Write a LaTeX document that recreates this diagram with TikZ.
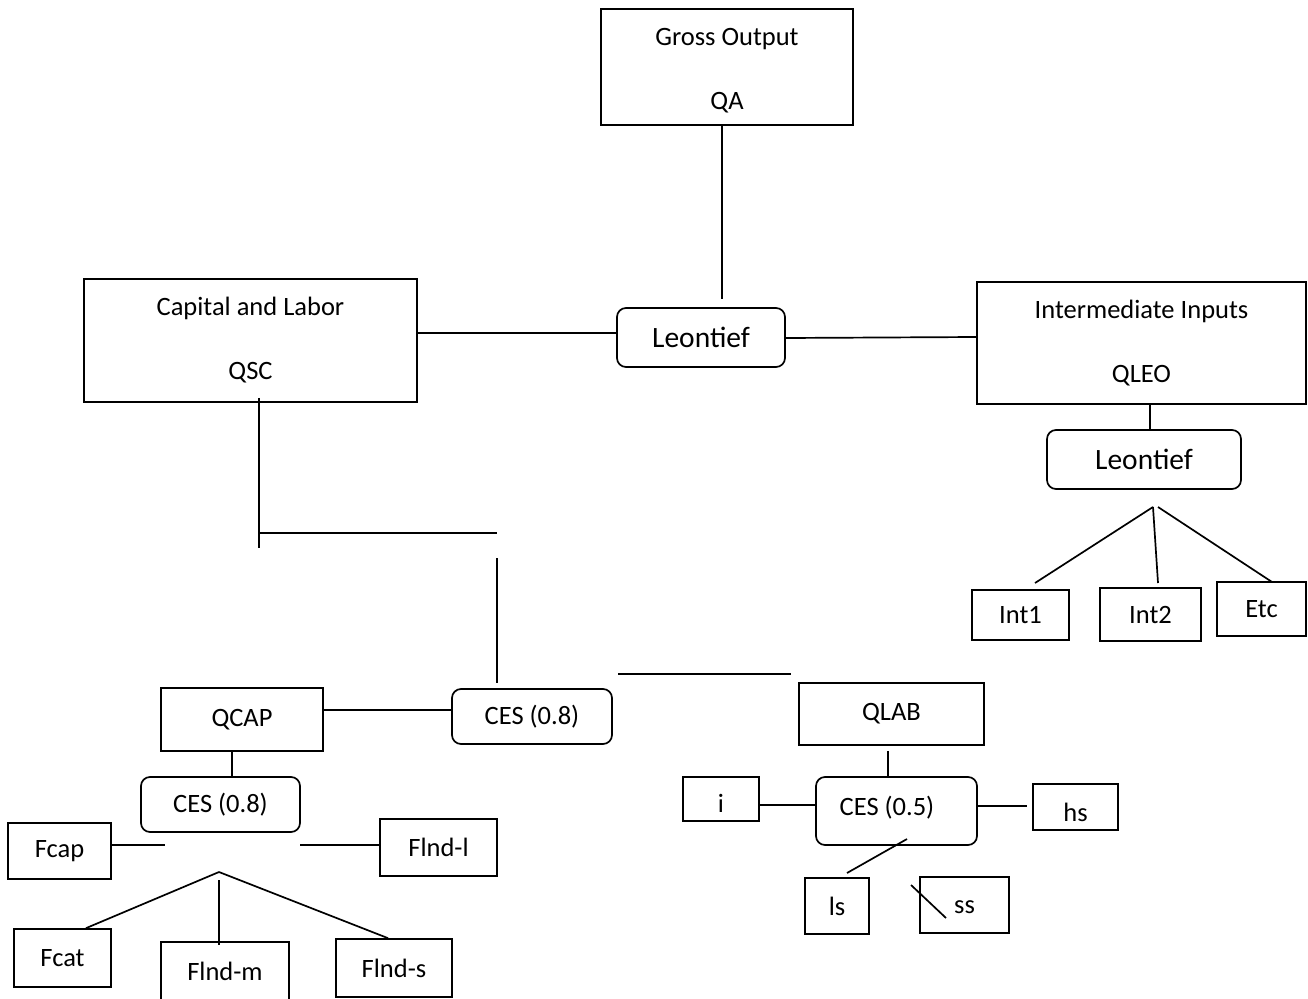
\documentclass[tikz,border=0pt]{standalone}
\usepackage{fontspec}
\setmainfont{Carlito}
\begin{document}
\begin{tikzpicture}[x=1pt,y=-1pt,
  txt/.style={font=\fontsize{26.5pt}{32pt}\selectfont,align=center,inner sep=0pt},
  box/.style={draw,line width=1.7pt,inner sep=0pt,txt},
  rbox/.style={box,rounded corners=9pt},
  big/.style={font=\fontsize{29.5pt}{35pt}\selectfont},
  conn/.style={line width=1.7pt}]
\useasboundingbox (0,0) rectangle (1308,998);
\clip (0,0) rectangle (1308,998);
% top level
\node[box,minimum width=252pt,minimum height=116pt,
  label={[txt,yshift=-4pt]center:Gross Output\\[32pt]QA}] (go) at (727,67) {};
\node[box,minimum width=333pt,minimum height=123pt] (cl) at (250.5,340.5) {Capital and Labor\\[32pt]QSC};
\node[rbox,big,minimum width=168pt,minimum height=59pt] (lc) at (701,337.5) {Leontief};
\node[box,minimum width=329pt,minimum height=122pt] (ii) at (1141.5,343) {Intermediate Inputs\\[32pt]QLEO};
\node[rbox,big,minimum width=194pt,minimum height=59pt] (lr) at (1144,459.5) {Leontief};
\node[box,minimum width=97pt,minimum height=50pt] (int1) at (1020.5,615) {Int1};
\node[box,minimum width=101pt,minimum height=53pt] (int2) at (1150.5,614.5) {Int2};
\node[box,minimum width=89pt,minimum height=54pt] (etc) at (1261.5,609) {Etc};
% capital branch
\node[rbox,minimum width=160pt,minimum height=55pt] (cesc) at (532,716.5) {CES (0.8)};
\node[box,minimum width=162pt,minimum height=63pt] (qcap) at (242,719.5) {QCAP};
\node[rbox,minimum width=159pt,minimum height=55pt] (cesl) at (220.5,804.5) {CES (0.8)};
\node[box,minimum width=103pt,minimum height=56pt] (fcap) at (59.5,851) {Fcap};
\node[box,minimum width=117pt,minimum height=57pt] (flndl) at (438.5,847.5) {Flnd-l};
\node[box,minimum width=97pt,minimum height=58pt] (fcat) at (62.5,958) {Fcat};
\node[box,minimum width=128pt,minimum height=58pt] (flndm) at (225,971) {Flnd-m};
\node[box,minimum width=116pt,minimum height=58pt] (flnds) at (394,968) {Flnd-s};
% labour branch
\node[box,minimum width=185pt,minimum height=62pt] (qlab) at (891.5,714) {QLAB};
\node[rbox,minimum width=161pt,minimum height=68pt,
  label={[txt,xshift=-9.5pt,yshift=3pt]center:CES (0.5)}] (cesr) at (896.5,811) {};
\node[box,minimum width=76pt,minimum height=44pt,
  label={[txt,yshift=-4pt]center:i}] (ib) at (721,799) {};
\node[box,minimum width=85pt,minimum height=46pt,
  label={[txt,yshift=-5pt]center:hs}] (hs) at (1075.5,807) {};
\node[box,minimum width=64pt,minimum height=56pt] (ls) at (837,906) {ls};
\node[box,minimum width=89pt,minimum height=56pt,
  label={[txt,yshift=-2pt]center:ss}] (ss) at (964.5,905) {};
% free ends
\coordinate (a1) at (722,299);
\coordinate (ap1) at (1153,507);
\coordinate (ap2) at (1158,507);
\coordinate (e1) at (1035,583);
\coordinate (e2) at (1158,583);
\coordinate (e3) at (1272,582);
\coordinate (b1) at (259,548);
\coordinate (b2) at (259,533);
\coordinate (b3) at (497,533);
\coordinate (b4) at (497,558);
\coordinate (b5) at (497,683);
\coordinate (c1) at (618,674);
\coordinate (c2) at (791,674);
\coordinate (d1) at (165,845);
\coordinate (d2) at (300,845);
\coordinate (d3) at (219,872);
\coordinate (d4) at (219,880);
\coordinate (f1) at (1027,806);
\coordinate (f2) at (907,839);
\coordinate (f3) at (847,873);
\coordinate (f4) at (911,885);
\coordinate (f5) at (946,918);
% connectors
\draw[conn] (go.south -| a1) -- (a1);
\draw[conn] ([yshift=7.5pt]cl.east) -- ([yshift=4.5pt]lc.west);
\draw[conn] ([yshift=-0.5pt]lc.east) -- ([yshift=6pt]ii.west);
\draw[conn] ([xshift=8.5pt]ii.south) -- ([xshift=6pt]lr.north);
\draw[conn] (ap1) -- (e1);
\draw[conn] (ap1) -- (e2);
\draw[conn] (ap2) -- (e3);
\draw[conn] ([xshift=8.5pt,yshift=5pt]cl.south) -- (b1);
\draw[conn] (b2) -- (b3);
\draw[conn] (b4) -- (b5);
\draw[conn] (c1) -- (c2);
\draw[conn] ([yshift=9.5pt]qcap.east) -- ([yshift=6.5pt]cesc.west);
\draw[conn] ([xshift=-10pt]qcap.south) -- ([xshift=11.5pt]cesl.north);
\draw[conn] ([yshift=6pt]fcap.east) -- (d1);
\draw[conn] (d2) -- ([yshift=2.5pt]flndl.west);
\draw[conn] (d3) -- ([xshift=23.5pt]fcat.north);
\draw[conn] (d3) -- ([xshift=-6pt]flnds.north);
\draw[conn] (d4) -- ([xshift=-6pt,yshift=-4pt]flndm.north);
\draw[conn] ([xshift=-3.5pt,yshift=-5pt]qlab.south) -- ([xshift=-8.5pt]cesr.north);
\draw[conn] ([yshift=-6pt]ib.east) -- ([yshift=6pt]cesr.west);
\draw[conn] ([yshift=5pt]cesr.east) -- (f1);
\draw[conn] (f2) -- (f3);
\draw[conn] (f4) -- (f5);
\end{tikzpicture}
\end{document}
